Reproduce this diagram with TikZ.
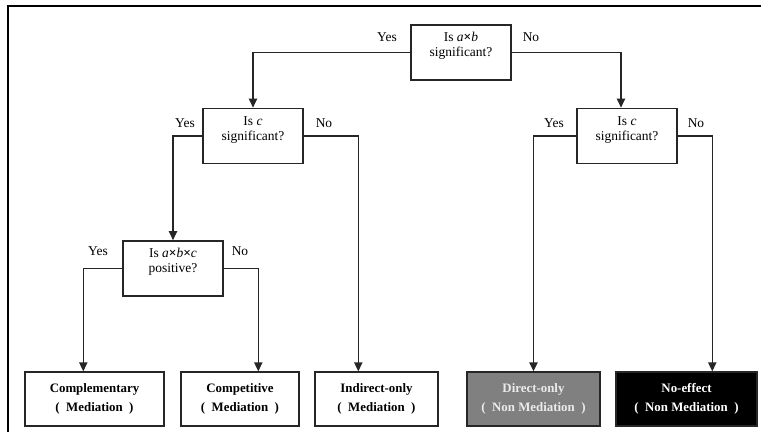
\documentclass[tikz,border=0pt]{standalone}
\usepackage{fontspec}
\setmainfont{Liberation Serif}
\usetikzlibrary{arrows.meta}

\tikzset{
  question/.style={draw=black!85, line width=1.2pt, fill=white, align=center, inner sep=0pt,
    minimum width=30mm, text height=9.6mm, text depth=7mm, font=\fontsize{11.5}{13}\selectfont},
  outcome/.style={draw=black!85, line width=1.2pt, align=center, inner sep=0pt,
    minimum height=16.2mm, font=\fontsize{11}{16}\selectfont\bfseries},
  answer/.style={inner sep=0pt, font=\fontsize{11.5}{13}\selectfont},
  flow/.style={line width=1.2pt, draw=black!85, -{Triangle[width=2.5mm,length=2.7mm]}},
}

\begin{document}
\begin{tikzpicture}[x=0.3mm, y=-0.3mm]
  \useasboundingbox (0,0) rectangle (761,432);

  % Frame
  \draw[line width=1.5pt] (8,450) -- (8,6) -- (780,6);

  % Questions
  \node[question] (q1) at (461,52.5) {Is \textit{a}\textbf{×}\textit{b}\\significant?};
  \node[question] (q2) at (253,136) {Is \textit{c}\\significant?};
  \node[question] (q3) at (173,268.5) {Is \textit{a}\textbf{×}\textit{b}\textbf{×}\textit{c}\\positive?};
  \node[question] (q4) at (627,136) {Is \textit{c}\\significant?};

  % Outcomes
  \node[outcome, minimum width=41.7mm] (r1) at (94.5,399) {Complementary\\(\enspace Mediation\enspace)};
  \node[outcome, minimum width=35.4mm] (r2) at (240,399) {Competitive\\(\enspace Mediation\enspace)};
  \node[outcome, minimum width=36.9mm] (r3) at (376.5,399) {Indirect-only\\(\enspace Mediation\enspace)};
  \node[outcome, minimum width=39.9mm, fill=black!50, text=white!92!black] (r4) at (533.5,399) {Direct-only\\(\enspace Non Mediation\enspace)};
  \node[outcome, minimum width=42.3mm, fill=black, text=white] (r5) at (686.5,399) {No-effect\\(\enspace Non Mediation\enspace)};

  % Answers
  \node[answer] (y1) at (387,37) {Yes};
  \node[answer] (n1) at (531,37) {No};
  \node[answer] (y2) at (185,123) {Yes};
  \node[answer] (n2) at (324,123) {No};
  \node[answer] (y3) at (98,251) {Yes};
  \node[answer] (n3) at (240,251) {No};
  \node[answer] (y4) at (554,123) {Yes};
  \node[answer] (n4) at (696,123) {No};

  % Branches
  \draw[flow] (q1.west) -| (q2.north);
  \draw[flow] (q1.east) -| ([xshift=-1.8mm]q4.north);
  \draw[flow] (q2.west) -| (q3.north);
  \draw[flow] (q2.east) -| ([xshift=13.2mm]r3.north west);
  \draw[flow] (q3.west) -| ([xshift=17.7mm]r1.north west);
  \draw[flow] (q3.east) -| ([xshift=23.4mm]r2.north west);
  \draw[flow] (q4.west) -| (r4.north);
  \draw[flow] (q4.east) -| ([xshift=29.1mm]r5.north west);

\end{tikzpicture}
\end{document}
